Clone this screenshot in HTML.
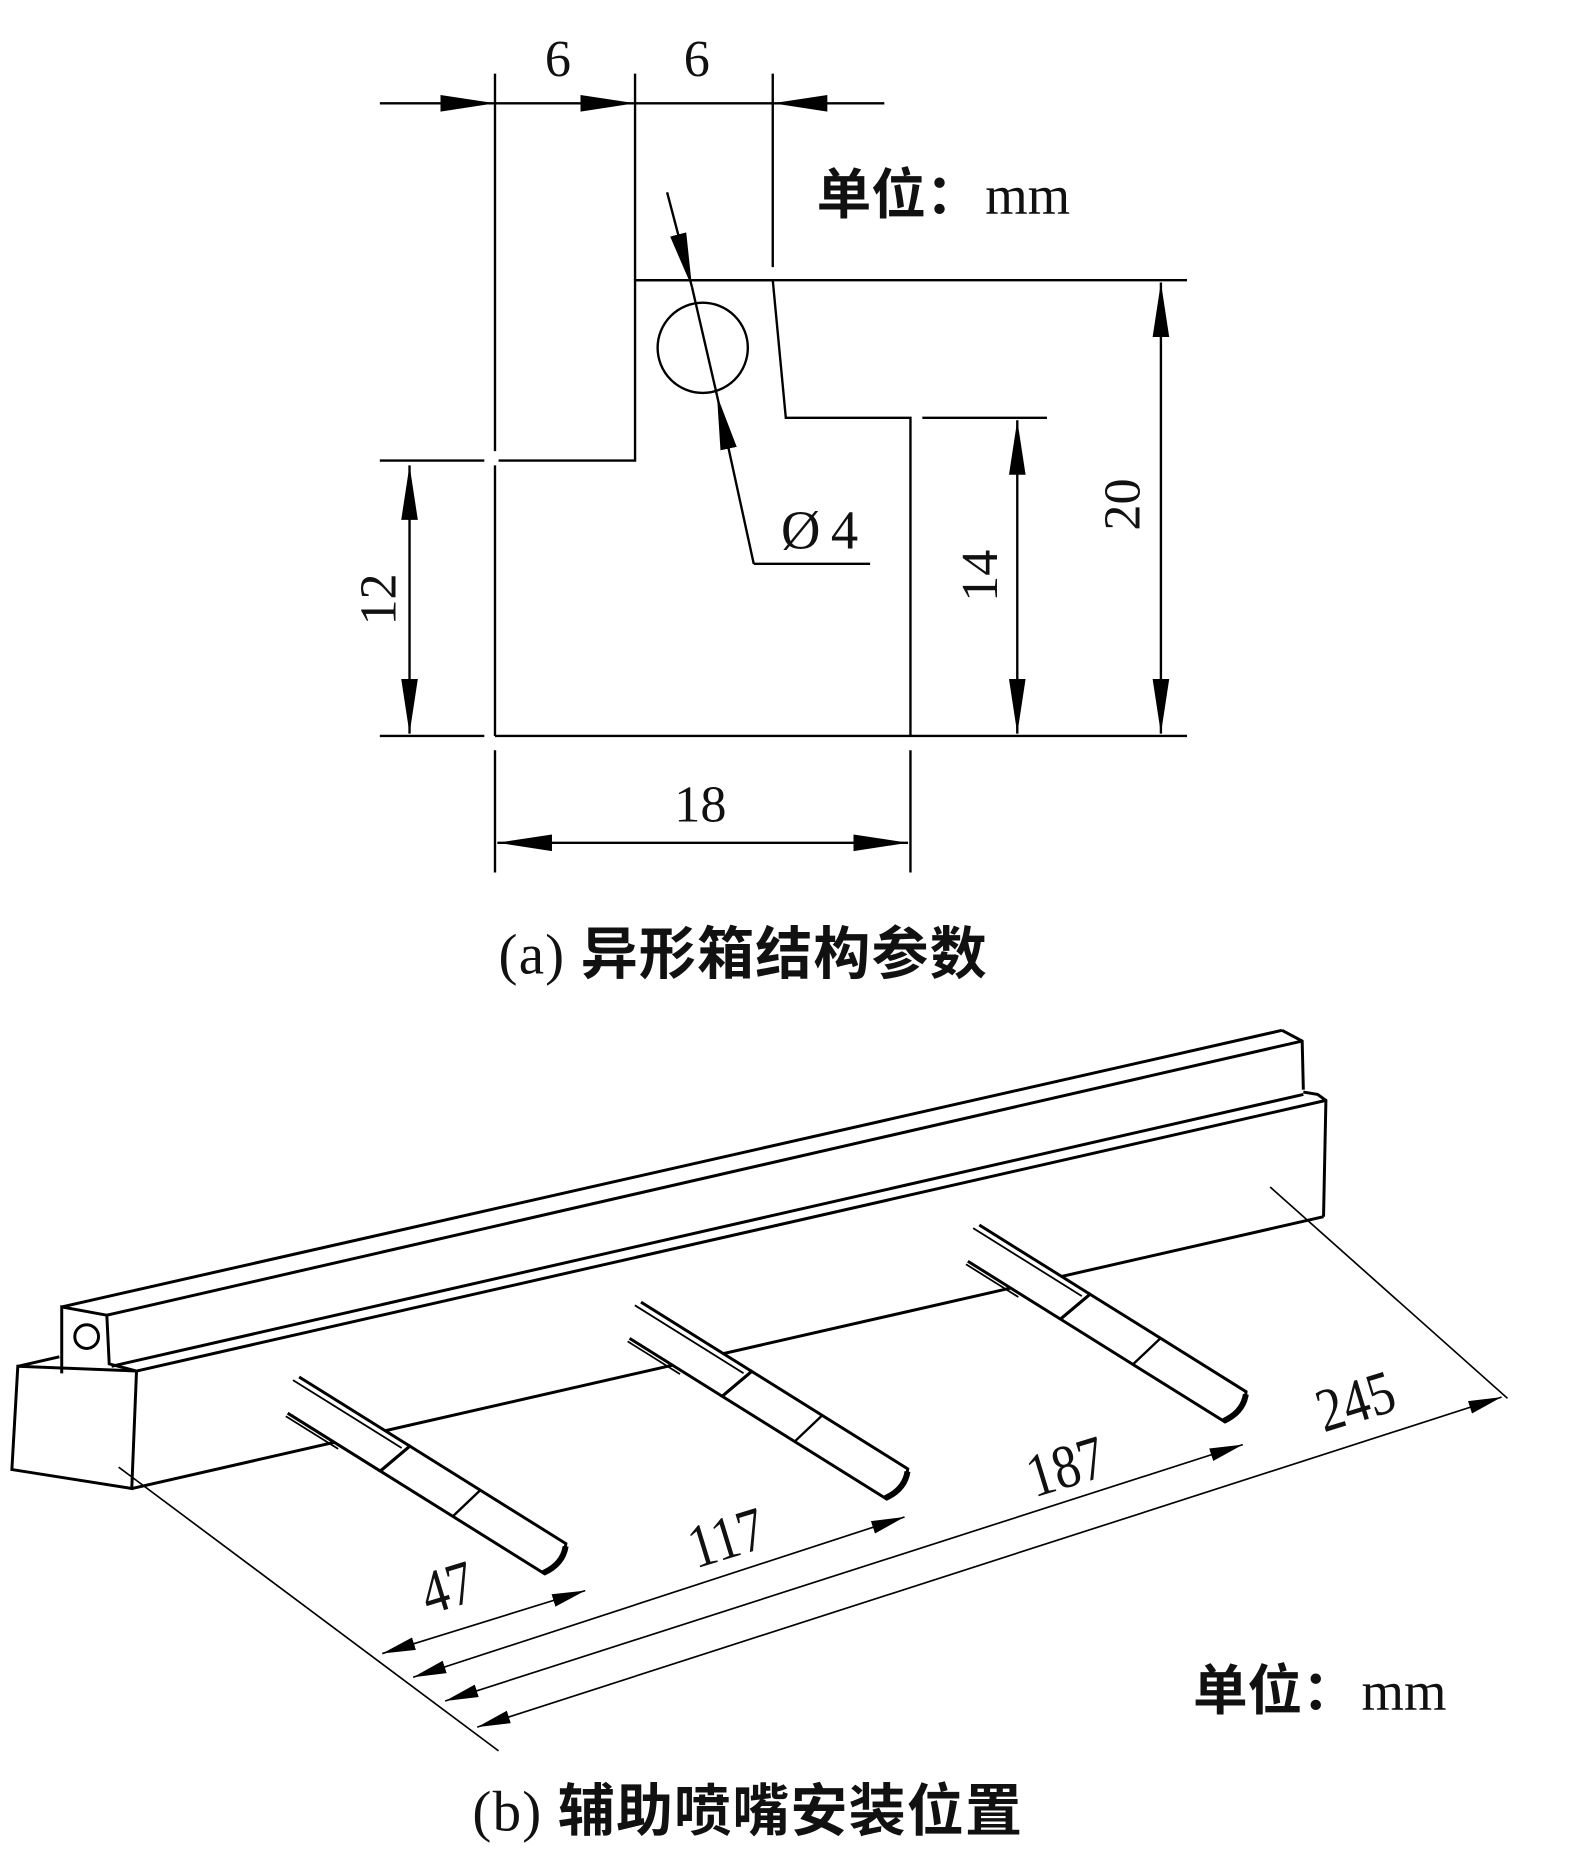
<!DOCTYPE html>
<html><head><meta charset="utf-8"><style>
html,body{margin:0;padding:0;background:#fff;}
svg{display:block;}
text{font-family:"Liberation Serif","Noto Serif CJK SC","Noto Sans CJK SC",serif;fill:#111;}
.cjk{font-family:"Liberation Serif","Noto Sans CJK SC",sans-serif;font-weight:bold;}
</style></head><body>
<svg width="1574" height="1866" viewBox="0 0 1326 1572" xmlns="http://www.w3.org/2000/svg">
<defs>
<marker id="a" markerUnits="userSpaceOnUse" markerWidth="48" markerHeight="16" refX="46" refY="8" orient="auto-start-reverse" viewBox="0 0 48 16"><path d="M0,1 L46,8 L0,15 Z" fill="#000"/></marker>
<marker id="b" markerUnits="userSpaceOnUse" markerWidth="30" markerHeight="12" refX="28" refY="6" orient="auto-start-reverse" viewBox="0 0 30 12"><path d="M0,0.5 L28,6 L0,11.5 Z" fill="#000"/></marker>
<g id="noz">
  <rect x="0" y="0" width="110" height="31" fill="#fff" stroke="none"/>
  <line x1="0" y1="0" x2="110" y2="0" stroke="#000" stroke-width="2.5"/>
  <line x1="-3" y1="5" x2="105" y2="5" stroke="#000" stroke-width="1.5"/>
  <line x1="8" y1="31" x2="100" y2="31" stroke="#000" stroke-width="2.5"/>
  <line x1="8" y1="34" x2="60" y2="34" stroke="#000" stroke-width="1.5"/>
  <path d="M110,0 L265,0 Q272,14 263,31 L100,31 Z" fill="#fff" stroke="#000" stroke-width="2.5"/>
  <line x1="110" y1="0" x2="100" y2="31" stroke="#000" stroke-width="2.5"/>
  <line x1="180" y1="0" x2="172" y2="31" stroke="#000" stroke-width="2"/>
  <path d="M266,2 Q272,16 262,31" fill="none" stroke="#000" stroke-width="5"/>
</g>
</defs>

<g stroke="#000" stroke-width="2" fill="none">
<line x1="320" y1="87" x2="417" y2="87" marker-end="url(#a)"/>
<line x1="417" y1="87" x2="535" y2="87" marker-end="url(#a)"/>
<line x1="535" y1="87" x2="651" y2="87"/>
<line x1="745" y1="87" x2="651" y2="87" marker-end="url(#a)"/>
<line x1="417" y1="62" x2="417" y2="380"/>
<line x1="535" y1="62" x2="535" y2="236"/>
<line x1="651" y1="62" x2="651" y2="225"/>
<polyline points="417,392 417,620"/>
<polyline points="420,388 535,388 535,236 651,236 662,352 767,352 767,620"/>
<line x1="535" y1="236" x2="1000" y2="236"/>
<line x1="320" y1="620" x2="408" y2="620"/>
<line x1="417" y1="620" x2="1000" y2="620"/>
<line x1="320" y1="388" x2="408" y2="388"/>
<line x1="345" y1="392" x2="345" y2="618" marker-start="url(#a)" marker-end="url(#a)"/>
<line x1="777" y1="352" x2="882" y2="352"/>
<line x1="857" y1="354" x2="857" y2="618" marker-start="url(#a)" marker-end="url(#a)"/>
<line x1="978" y1="238" x2="978" y2="618" marker-start="url(#a)" marker-end="url(#a)"/>
<line x1="417" y1="632" x2="417" y2="735"/>
<line x1="767" y1="632" x2="767" y2="735"/>
<line x1="419" y1="710" x2="765" y2="710" marker-start="url(#a)" marker-end="url(#a)"/>
<circle cx="592" cy="293" r="38"/>
<line x1="562" y1="162" x2="583" y2="242" marker-end="url(#a)"/>
<line x1="583" y1="242" x2="604" y2="333"/>
<polyline points="635,475 604,333" marker-end="url(#a)"/>
<line x1="635" y1="475" x2="733" y2="475"/>

<g stroke-width="2.5">
<polygon points="15,1151 10,1238 111,1254 115,1155" fill="#fff"/>
<polyline points="15,1151 50,1143"/>
<polyline points="52,1157 52,1101 90,1108 92,1149 115,1155"/>
<circle cx="73" cy="1126" r="10"/>
<line x1="52" y1="1101" x2="1080" y2="868"/>
<line x1="90" y1="1108" x2="1097" y2="877"/>
<polyline points="1080,868 1097,877 1098,918"/>
<line x1="94" y1="1151" x2="1098" y2="922"/>
<line x1="115" y1="1155" x2="1117" y2="927"/>
<polyline points="1098,920 1110,922 1117,927 1115,1025"/>
<line x1="111" y1="1254" x2="1115" y2="1025"/>
</g>
<g transform="translate(252,1160) rotate(32)"><use href="#noz"/></g>
<g transform="translate(540,1097) rotate(32)"><use href="#noz"/></g>
<g transform="translate(825,1032) rotate(32)"><use href="#noz"/></g>

<g stroke-width="1.4">
<line x1="100" y1="1236" x2="420" y2="1475"/>
<line x1="1070" y1="1000" x2="1270" y2="1178"/>
<line x1="322" y1="1393" x2="493" y2="1340" marker-start="url(#b)" marker-end="url(#b)"/>
<line x1="348" y1="1413" x2="762" y2="1278" marker-start="url(#b)" marker-end="url(#b)"/>
<line x1="375" y1="1433" x2="1047" y2="1217" marker-start="url(#b)" marker-end="url(#b)"/>
<line x1="402" y1="1455" x2="1265" y2="1177" marker-start="url(#b)" marker-end="url(#b)"/>
</g>
</g>

<g font-size="44">
<text x="470" y="64" text-anchor="middle">6</text>
<text x="587" y="64" text-anchor="middle">6</text>
<text x="590" y="692" text-anchor="middle">18</text>
<text transform="translate(333,505) rotate(-90)" text-anchor="middle">12</text>
<text transform="translate(840,485) rotate(-90)" text-anchor="middle">14</text>
<text transform="translate(960,425) rotate(-90)" text-anchor="middle">20</text>
<text x="658" y="462" font-size="46" font-family="Liberation Sans, sans-serif">Ø</text>
<text x="700" y="462" font-size="46">4</text>
</g>
<text x="688" y="180" font-size="46" class="cjk">单位：<tspan dx="4" font-family="Liberation Serif" font-weight="normal">mm</tspan></text>
<text x="420" y="820" font-size="48" class="cjk" letter-spacing="1"><tspan font-family="Liberation Serif" font-weight="normal">(a) </tspan>异形箱结构参数</text>

<g font-size="52">
<text transform="translate(382,1354) rotate(-17) scale(0.85,1)" text-anchor="middle">47</text>
<text transform="translate(617,1312) rotate(-17) scale(0.85,1)" text-anchor="middle">117</text>
<text transform="translate(903,1252) rotate(-17) scale(0.85,1)" text-anchor="middle">187</text>
<text transform="translate(1147,1197) rotate(-17) scale(0.85,1)" text-anchor="middle">245</text>
</g>
<text x="1005" y="1440" font-size="46" class="cjk">单位：<tspan dx="4" font-family="Liberation Serif" font-weight="normal">mm</tspan></text>
<text x="398" y="1542" font-size="48" class="cjk" letter-spacing="1"><tspan font-family="Liberation Serif" font-weight="normal">(b) </tspan>辅助喷嘴安装位置</text>
</svg>
</body></html>
